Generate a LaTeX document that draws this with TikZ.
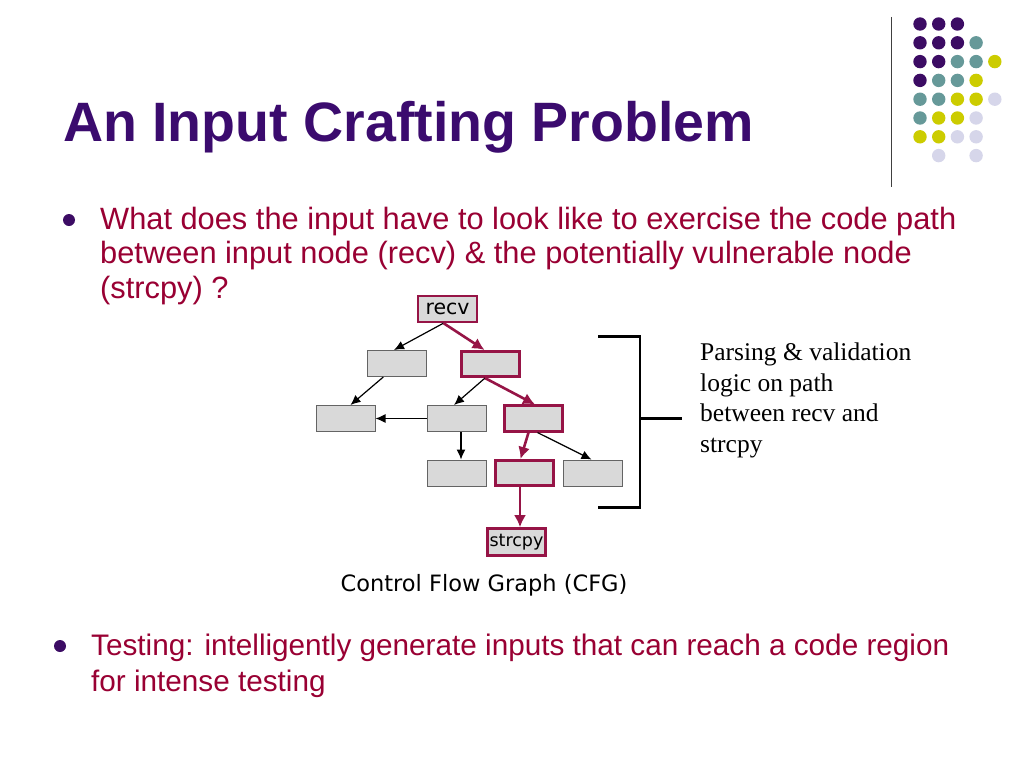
\documentclass[tikz,border=0pt]{standalone}
\usepackage{fontspec}
\setmainfont{Liberation Sans}
\newfontfamily\serifface{Liberation Serif}
\newfontfamily\cfgface{DejaVu Sans}
\usepackage{tikz}
\usetikzlibrary{arrows,arrows.meta,shapes,positioning}
\usepackage{xcolor}
\definecolor{ttlpurple}{RGB}{59,11,110}
\definecolor{txtred}{RGB}{153,0,51}
\definecolor{pathred}{RGB}{150,20,70}
\definecolor{boxfill}{RGB}{217,217,217}
\definecolor{boxgray}{RGB}{100,100,100}
\definecolor{dpurple}{RGB}{60,12,100}
\definecolor{dteal}{RGB}{102,153,153}
\definecolor{dyellow}{RGB}{204,204,0}
\definecolor{dlav}{RGB}{214,214,234}
\tikzstyle{blk} = [draw=boxgray, fill=boxfill, line width=1pt, minimum width=59pt, minimum height=26pt, inner sep=0pt]
\tikzstyle{hot} = [blk, draw=pathred, line width=2.6pt, minimum width=58.5pt, minimum height=25.5pt]
\tikzstyle{edge} = [-{Latex[length=10pt,width=9pt]}, line width=1.2pt]
\tikzstyle{hotedge} = [-{Latex[length=12pt,width=12pt]}, line width=2.6pt, color=pathred]
\tikzstyle{line} = [anchor=base west, inner sep=0pt]

\begin{document}
\begin{tikzpicture}[x=1pt, y=-1pt]
\path[fill=white, use as bounding box] (0,0) rectangle (1024,768);

% Corner dots
\draw[line width=1.5pt, color=black!75] (891.7,17) -- (891.7,187);
\foreach \c/\r/\k in {0/0/dpurple, 1/0/dpurple, 2/0/dpurple,
  0/1/dpurple, 1/1/dpurple, 2/1/dpurple, 3/1/dteal,
  0/2/dpurple, 1/2/dpurple, 2/2/dteal, 3/2/dteal, 4/2/dyellow,
  0/3/dpurple, 1/3/dteal, 2/3/dteal, 3/3/dyellow,
  0/4/dteal, 1/4/dteal, 2/4/dyellow, 3/4/dyellow, 4/4/dlav,
  0/5/dteal, 1/5/dyellow, 2/5/dyellow, 3/5/dlav,
  0/6/dyellow, 1/6/dyellow, 2/6/dlav, 3/6/dlav,
  1/7/dlav, 3/7/dlav}
  \fill[\k] (920+18.7*\c, 24+18.8*\r) circle (6.7);

% Title
\node[line, text=ttlpurple, font=\bfseries\fontsize{55.5}{60}\selectfont] (title) at (63,141.7) {An Input Crafting Problem};

% First bullet
\fill[dpurple] (69,220) circle (6);
\node[line, text=txtred, font=\fontsize{30.8}{34}\selectfont] (qa) at (100,229) {What does the input have to look like to exercise the code path};
\node[line, text=txtred, font=\fontsize{30.8}{34}\selectfont] (qb) at (100,263.5) {between input node (recv) \& the potentially vulnerable node};
\node[line, text=txtred, font=\fontsize{30.8}{34}\selectfont] (qc) at (100,298) {(strcpy) ?};

% CFG
\node[hot, font=\cfgface\fontsize{20.5}{24}\selectfont, minimum width=59pt, minimum height=25.7pt] (recv) at (447.5,309) {recv};
\node[blk] (pa) at (397,363.5) {};
\node[hot] (pb) at (490.5,364) {};
\node[blk] (pc) at (345.5,418.5) {};
\node[blk] (pd) at (456.5,418.5) {};
\node[hot] (pe) at (533.5,418.5) {};
\node[blk] (pf) at (456.5,473) {};
\node[hot] (pg) at (524.5,473) {};
\node[blk] (ph) at (593,473) {};
\node[hot, font=\cfgface\fontsize{17.5}{21}\selectfont, minimum width=58pt, minimum height=27pt] (strcpy) at (516.5,542) {strcpy};

\draw[edge] ([xshift=-4pt]recv.south) -- ([xshift=-3pt]pa.north);
\draw[hotedge] ([xshift=-4pt]recv.south) -- ([xshift=-6pt]pb.north);
\draw[edge] ([xshift=-13.7pt]pa.south) -- ([xshift=5pt]pc.north);
\draw[edge] ([xshift=-5.5pt]pb.south) -- ([xshift=-2.5pt]pd.north);
\draw[hotedge] ([xshift=-5.5pt]pb.south) -- ([xshift=1.5pt]pe.north);
\draw[edge] (pd.west) -- (pc.east);
\draw[edge] ([xshift=4.5pt]pd.south) -- ([xshift=4.5pt]pf.north);
\draw[hotedge] ([xshift=-5pt]pe.south) -- ([xshift=-4pt]pg.north);
\draw[edge] ([xshift=4pt]pe.south) -- ([xshift=-1.5pt]ph.north);
\draw[hotedge] ([xshift=-4.5pt]pg.south) -- ([xshift=3.5pt]strcpy.north);

\node[anchor=base, inner sep=0pt, font=\cfgface\fontsize{22.5}{26}\selectfont] (cap) at (484,591.7) {Control Flow Graph (CFG)};

% Bracket and note
\coordinate (bt) at (598,336.7);
\coordinate (bb) at (598,507.3);
\coordinate (bm) at (640,418.3);
\draw[line width=2.8pt, line join=miter] (bt) -| (640,507.3) -- (bb);
\draw[line width=2.8pt] (bm) -- (681.7,418.3);
\node[line, font=\serifface\fontsize{25.5}{29}\selectfont] (na) at (700,360.7) {Parsing \& validation};
\node[line, font=\serifface\fontsize{25.5}{29}\selectfont] (nb) at (700,391.2) {logic on path};
\node[line, font=\serifface\fontsize{25.5}{29}\selectfont] (nc) at (700,421.7) {between recv and};
\node[line, font=\serifface\fontsize{25.5}{29}\selectfont] (nd) at (700,452.2) {strcpy};

% Second bullet
\fill[dpurple] (60,646) circle (6);
\node[line, text=txtred, font=\fontsize{29.7}{33}\selectfont] (ta) at (91,655.5) {Testing: intelligently generate inputs that can reach a code region};
\node[line, text=txtred, font=\fontsize{29.7}{33}\selectfont] (tb) at (91,691.5) {for intense testing};
\end{tikzpicture}
\end{document}
